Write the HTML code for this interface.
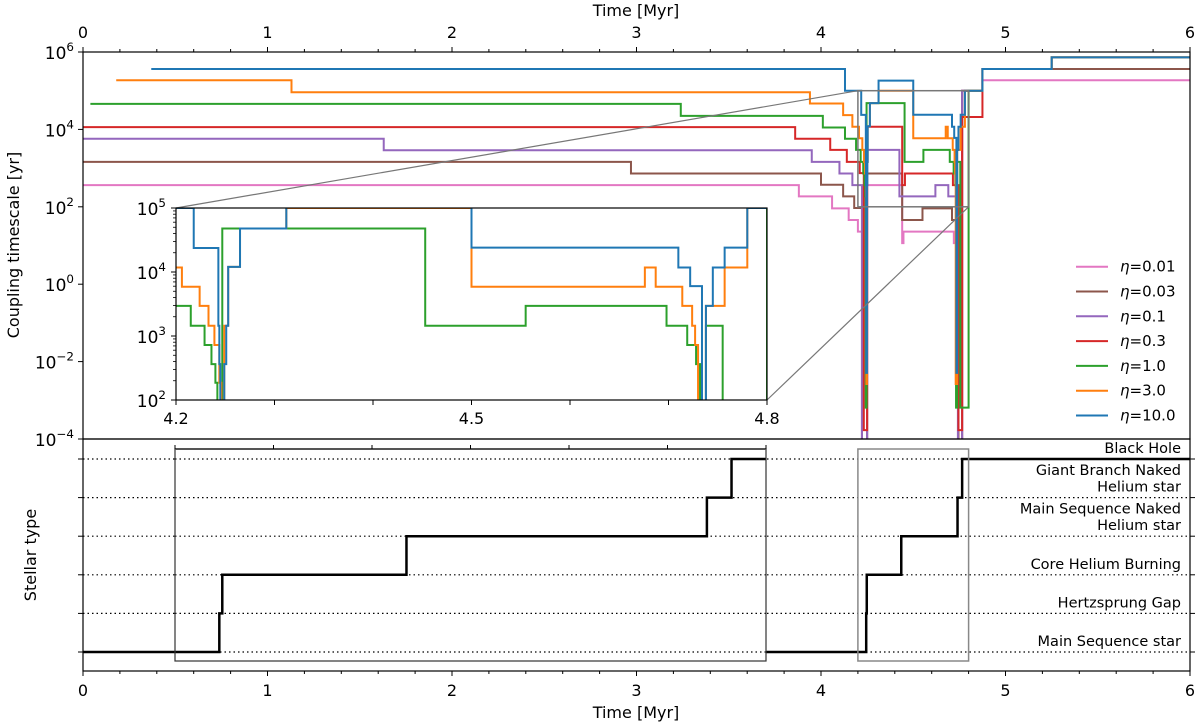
<!DOCTYPE html>
<html><head><meta charset="utf-8"><style>
html,body{margin:0;padding:0;background:#fff;}
svg{display:block;font-family:"DejaVu Sans","Liberation Sans",sans-serif;}
</style></head><body>
<svg id="chart" width="1200" height="728" viewBox="0 0 1200 728" xmlns="http://www.w3.org/2000/svg">
<defs>
<clipPath id="clipTop"><rect x="83" y="52" width="1107" height="387"/></clipPath>
<clipPath id="clipInset"><rect x="176" y="208" width="591" height="192"/></clipPath>
<clipPath id="clipBot"><rect x="83" y="439" width="1107" height="232"/></clipPath>
<clipPath id="clipBotInset"><rect x="175" y="449" width="591" height="212"/></clipPath>
</defs>
<g id="g"></g>
</svg>
<script>
// ---- data (times in Myr, coupling timescale as log10(yr)) ----
const seriesNames = ["η=0.01","η=0.03","η=0.1","η=0.3","η=1.0","η=3.0","η=10.0"];
const seriesColors = ["#e377c2","#8c564b","#9467bd","#d62728","#2ca02c","#ff7f0e","#1f77b4"];
const pinkT   = [0,3.88,4.06,4.15,4.20,4.222,4.25,4.44,4.447,4.72,4.745,4.765,4.875];
const pinkV   = [2.56,2.27,1.96,1.66,1.36,-5,2.56,1.06,1.36,1.06,-5,5.0,5.27];
const brownT  = [0,2.97,4.0,4.12,4.18,4.222,4.25,4.44,4.55,4.71,4.745,4.765,4.875];
const brownV  = [3.16,2.86,2.57,2.27,1.97,-5,2.86,1.66,1.96,1.66,-5,5.0,5.56];
const purpleT = [0,1.63,3.95,4.10,4.17,4.222,4.25,4.425,4.62,4.69,4.742,4.765,4.875,5.25];
const purpleV = [3.76,3.46,3.16,2.86,2.56,-5,3.47,2.27,2.56,2.27,-5,5.0,5.56,5.86];
const redT    = [0,3.86,4.05,4.14,4.21,4.232,4.25,4.44,4.455,4.715,4.745,4.765,4.875,5.25];
const redV    = [4.06,3.76,3.47,3.16,2.87,-3.77,4.07,2.56,2.86,2.56,-3.77,4.32,5.56,5.86];
const greenT  = [0.04,3.24,4.01,4.13,4.19,4.215,4.229,4.236,4.24,4.242,4.247,4.453,4.555,4.698,4.719,4.728,4.732,4.738,4.755,4.80,4.875,5.25];
const greenV  = [4.66,4.35,4.05,3.76,3.47,3.16,2.86,2.56,2.27,-3.19,4.68,3.16,3.47,3.16,2.86,2.56,-3.19,3.16,-3.19,5.0,5.56,5.86];
const orangeT = [0.18,1.13,3.94,4.12,4.17,4.206,4.224,4.233,4.239,4.244,4.246,4.249,4.253,4.265,4.312,4.5,4.676,4.687,4.714,4.724,4.727,4.73,4.738,4.757,4.78,4.875,5.25];
const orangeV = [5.27,4.96,4.67,4.37,4.07,3.77,3.47,3.16,2.86,2.27,-2.58,3.16,4.08,4.68,5.0,3.77,4.07,3.77,3.47,3.16,2.86,-2.58,3.47,4.07,5.0,5.56,5.86];
const blueT   = [0.37,4.13,4.218,4.243,4.244,4.245,4.249,4.251,4.253,4.265,4.312,4.5,4.71,4.722,4.734,4.738,4.745,4.757,4.78,4.875,5.25];
const blueV   = [5.56,5.0,4.375,3.16,2.56,-2.29,2.56,3.16,4.08,4.68,5.26,4.38,4.07,3.78,-2.29,3.47,4.07,4.38,5.0,5.56,5.86];
const stellarT = [0,4.245,4.248,4.435,4.74,4.765];
const stellarV = [0,1,2,3,4,5];
const stellarLabels = [["Main Sequence star"],["Hertzsprung Gap"],["Core Helium Burning"],["Main Sequence Naked","Helium star"],["Giant Branch Naked","Helium star"],["Black Hole"]];
const xTicks = [0,1,2,3,4,5,6];
const yTicks = [6,4,2,0,-2,-4];
const insetXTicks = [4.2,4.5,4.8];
const insetYTicks = [5,4,3,2];

// ---- scales ----
const X = t => 83 + t*184.5;
const YT = v => 52 + (6-v)*38.7;
const XI = t => 176 + (t-4.2)*985;
const YI = v => 208 + (5-v)*64;
const YB = s => 652 - s*38.6;
const XBI = t => 175 + (t-4.2)*985;

const NS="http://www.w3.org/2000/svg";
const root=document.getElementById('g');
function el(tag,attrs,parent){const e=document.createElementNS(NS,tag);for(const k in attrs)e.setAttribute(k,attrs[k]);(parent||root).appendChild(e);return e;}
function stepPath(ts,vs,tEnd,fx,fy){let d="M"+fx(ts[0]).toFixed(2)+","+fy(vs[0]).toFixed(2);for(let i=1;i<ts.length;i++){d+="H"+fx(ts[i]).toFixed(2)+"V"+fy(vs[i]).toFixed(2);}d+="H"+fx(tEnd).toFixed(2);return d;}
function pow10(x,y,exp,anchor,size,name){const t=el('text',{x:x,y:y,'text-anchor':anchor,'font-size':size,'dominant-baseline':'middle',fill:'#000'});


const a=document.createElementNS(NS,'tspan');a.textContent='10';t.appendChild(a);const b=document.createElementNS(NS,'tspan');b.setAttribute('dy','-7');b.setAttribute('font-size',size*0.7);b.textContent=exp.replace('-','\u2212');t.appendChild(b);return t;}

const allT=[pinkT,brownT,purpleT,redT,greenT,orangeT,blueT];
const allV=[pinkV,brownV,purpleV,redV,greenV,orangeV,blueV];

// ---- top panel series ----
const gTop=el('g',{'clip-path':'url(#clipTop)'});


for(let i=0;i<7;i++){
  const p=el('path',{d:stepPath(allT[i],allV[i],6,X,YT),fill:'none',stroke:seriesColors[i],'stroke-width':2},gTop);
  
  
}
let r=el('rect',{x:X(4.2),y:YT(5),width:X(4.8)-X(4.2),height:YT(2)-YT(5),fill:'none',stroke:'#777','stroke-width':1.5});


let c1=el('line',{x1:X(4.2),y1:YT(5),x2:176,y2:208,stroke:'#777','stroke-width':1.2});


let c2=el('line',{x1:X(4.8),y1:YT(2),x2:767,y2:400,stroke:'#777','stroke-width':1.2});



let f=el('rect',{x:83,y:52,width:1107,height:387,fill:'none',stroke:'#000','stroke-width':1.2});


for(let t=0;t<=6.001;t+=0.2){const maj=Math.abs(t-Math.round(t))<1e-6;el('line',{x1:X(t),x2:X(t),y1:52,y2:52-(maj?5:3),stroke:'#000','stroke-width':1});}
xTicks.forEach(t=>{const tx=el('text',{x:X(t),y:38,'text-anchor':'middle','font-size':16});tx.textContent=t;

});
let xt=el('text',{x:636,y:16,'text-anchor':'middle','font-size':16});xt.textContent='Time [Myr]';


yTicks.forEach(v=>{el('line',{x1:83,x2:78,y1:YT(v),y2:YT(v),stroke:'#000','stroke-width':1});pow10(74,YT(v)+2,String(v),'end',17,'y-tick-label');});
let yl=el('text',{x:0,y:0,'text-anchor':'middle','font-size':16,transform:'translate(19,245) rotate(-90)'});yl.textContent='Coupling timescale [yr]';



for(let i=0;i<7;i++){const y=266.7+i*24.8;
 const ln=el('line',{x1:1076,x2:1108,y1:y,y2:y,stroke:seriesColors[i],'stroke-width':2});
 
 
 const tx=el('text',{x:1120,y:y+5,'font-size':15});
 
 
 const a=document.createElementNS(NS,'tspan');a.setAttribute('font-style','italic');a.textContent='η';tx.appendChild(a);
 const b=document.createElementNS(NS,'tspan');b.textContent=seriesNames[i].slice(1);tx.appendChild(b);}

// ---- inset ----
let ib=el('rect',{x:176,y:208,width:591,height:192,fill:'#fff',stroke:'none'});


const gIn=el('g',{'clip-path':'url(#clipInset)'});


[4,5,6].forEach(i=>{const p=el('path',{d:stepPath(allT[i],allV[i],6,XI,YI),fill:'none',stroke:seriesColors[i],'stroke-width':2},gIn);

});
let ifr=el('rect',{x:176,y:208,width:591,height:192,fill:'none',stroke:'#000','stroke-width':1.2});


for(let t=4.2;t<=4.8001;t+=0.1){el('line',{x1:XI(t),x2:XI(t),y1:400,y2:405,stroke:'#000','stroke-width':1});}
insetXTicks.forEach(t=>{const tx=el('text',{x:XI(t),y:424,'text-anchor':'middle','font-size':16});tx.textContent=t.toFixed(1);

});
for(let d=2;d<5;d++){for(let m=2;m<10;m++){const y=YI(d+Math.log10(m));el('line',{x1:176,x2:173,y1:y,y2:y,stroke:'#000','stroke-width':0.8});}}
insetYTicks.forEach(v=>{el('line',{x1:176,x2:171,y1:YI(v),y2:YI(v),stroke:'#000','stroke-width':1});pow10(166,YI(v)+2,String(v),'end',17,'inset-y-tick-label');});

// ---- bottom panel ----
let bf=el('rect',{x:83,y:439,width:1107,height:232,fill:'none',stroke:'#000','stroke-width':1.2});


for(let s=0;s<6;s++){
 const dl=el('line',{x1:83,x2:1190,y1:YB(s),y2:YB(s),stroke:'#000','stroke-width':1.2,'stroke-dasharray':'1.5,3'});
 
 
 el('line',{x1:83,x2:78,y1:YB(s),y2:YB(s),stroke:'#000','stroke-width':1});
 el('line',{x1:1190,x2:1195,y1:YB(s),y2:YB(s),stroke:'#000','stroke-width':1});
 const lines=stellarLabels[s];
 lines.forEach((L,j)=>{const tx=el('text',{x:1181,y:YB(s)-6-(lines.length-1-j)*16.5,'text-anchor':'end','font-size':14.5});tx.textContent=L;
 
 });
}
const gB=el('g',{'clip-path':'url(#clipBot)'});
let sp=el('path',{d:stepPath(stellarT,stellarV,6,X,YB),fill:'none',stroke:'#000','stroke-width':2.5},gB);


let bib=el('rect',{x:175,y:449,width:591,height:212,fill:'#fff',stroke:'none'});


for(let s=0;s<6;s++){el('line',{x1:175,x2:766,y1:YB(s),y2:YB(s),stroke:'#000','stroke-width':1.2,'stroke-dasharray':'1.5,3'});}
const gBI=el('g',{'clip-path':'url(#clipBotInset)'});
let sip=el('path',{d:stepPath(stellarT,stellarV,6,XBI,YB),fill:'none',stroke:'#000','stroke-width':2.5},gBI);


let bif=el('rect',{x:175,y:449,width:591,height:212,fill:'none',stroke:'#333','stroke-width':1.2});


el('line',{x1:175,x2:766,y1:449,y2:449,stroke:'#555','stroke-width':2});
for(let t=4.2;t<=4.8001;t+=0.1){el('line',{x1:XBI(t),x2:XBI(t),y1:449,y2:445,stroke:'#000','stroke-width':1});}
let gr=el('rect',{x:X(4.2),y:449,width:X(4.8)-X(4.2),height:212,fill:'none',stroke:'#888','stroke-width':1.5});


for(let t=0;t<=6.001;t+=0.2){const maj=Math.abs(t-Math.round(t))<1e-6;el('line',{x1:X(t),x2:X(t),y1:671,y2:671+(maj?5:3),stroke:'#000','stroke-width':1});}
xTicks.forEach(t=>{const tx=el('text',{x:X(t),y:696,'text-anchor':'middle','font-size':16});tx.textContent=t;

});
let bx=el('text',{x:636,y:718,'text-anchor':'middle','font-size':16});bx.textContent='Time [Myr]';


let by=el('text',{x:0,y:0,'text-anchor':'middle','font-size':16,transform:'translate(36,555) rotate(-90)'});by.textContent='Stellar type';


</script>
</body></html>
